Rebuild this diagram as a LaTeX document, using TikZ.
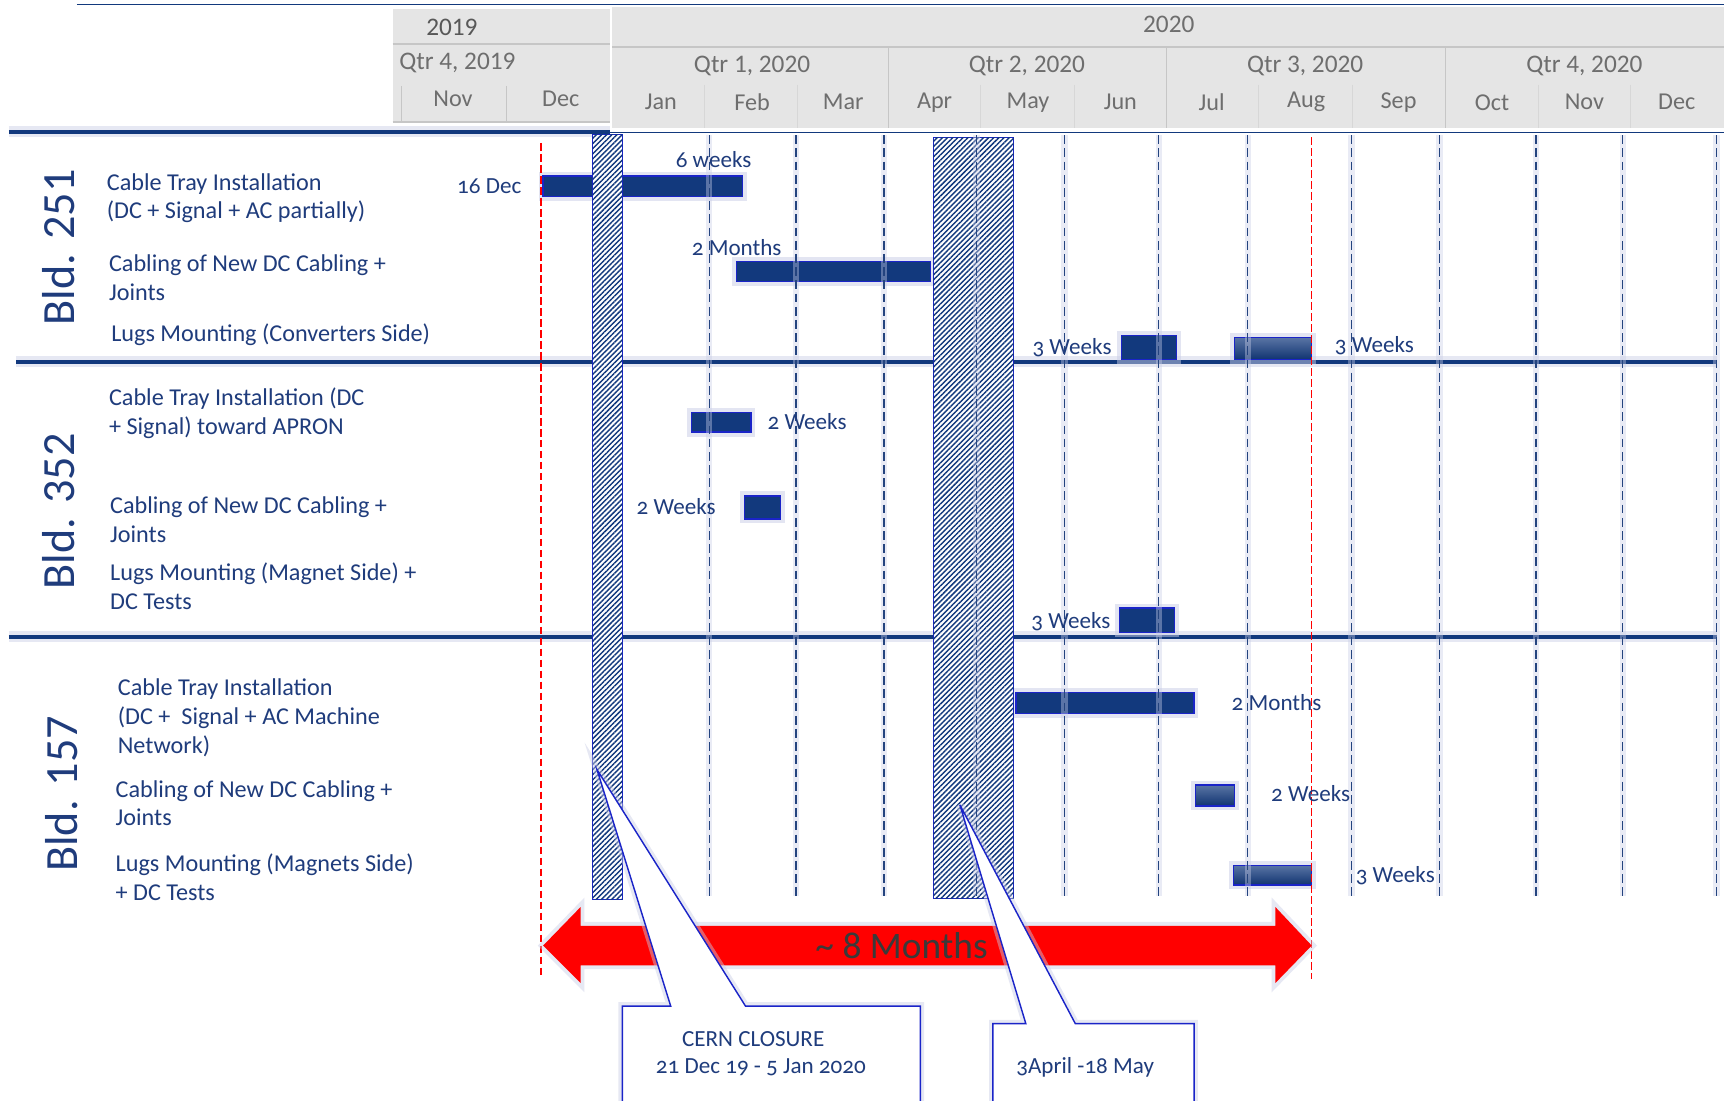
\documentclass[tikz,border=0pt]{standalone}
\usepackage{fontspec}
\setmainfont{Carlito}
\usetikzlibrary{patterns.meta}
\definecolor{bluetxt}{HTML}{1F3C7C}
\definecolor{barfill}{HTML}{12397D}
\definecolor{barline}{HTML}{1A24C8}
\definecolor{hdrgray}{HTML}{E5E5E5}
\definecolor{hdrline}{HTML}{C6C6C6}
\definecolor{hdrtext}{HTML}{6E6E6E}
\definecolor{gridblue}{HTML}{24447F}
\definecolor{glowc}{HTML}{C9CDE6}
\definecolor{txtgray}{HTML}{3A3A3A}
\begin{document}
\begin{tikzpicture}[x=1pt,y=-1pt,
  sectline/.style={draw=barfill, line width=3.5pt, preaction={draw=glowc, line width=10pt, opacity=0.45}},
  thinline/.style={draw=barfill, line width=1.5pt},
  monthline/.style={draw=gridblue, line width=1pt, dash pattern=on 8pt off 4pt, preaction={draw=glowc, line width=6pt, opacity=0.4, solid}},
  redline/.style={draw=red, line width=1pt, dash pattern=on 7pt off 3pt},
  bar/.style={fill=barfill, draw=barline, line width=1.2pt, preaction={draw=glowc, line width=8pt, opacity=0.5}},
  gradbar/.style={bar, top color=barfill!70, middle color=barfill!95!black, bottom color=barfill!90!black},
  closure/.style={draw=barline, line width=1pt, fill=white, postaction={pattern={Lines[angle=45,distance=3.3pt,line width=1.3pt]}, pattern color=barfill}},
  tasklbl/.style={anchor=base west, text=bluetxt, font=\fontsize{22}{26}\selectfont, align=left, inner sep=0pt},
  durlbl/.style={text=bluetxt, font=\fontsize{21}{24}\selectfont\addfontfeatures{Numbers=OldStyle}, inner sep=0pt},
  bldlbl/.style={text=bluetxt, font=\fontsize{42}{46}\selectfont, rotate=90, inner sep=0pt},
  hdrlbl/.style={text=hdrtext, font=\fontsize{22}{24}\selectfont, inner sep=0pt},
  qtrlbl/.style={hdrlbl, font=\fontsize{23}{26}\selectfont},
  callout/.style={draw=barline, line width=1.3pt, fill=white, preaction={draw=glowc, line width=7pt, opacity=0.45}},
  calltxt/.style={text=bluetxt, font=\fontsize{21}{26}\selectfont\addfontfeatures{Numbers=OldStyle}, inner sep=0pt},
]
\useasboundingbox (0,0) rectangle (1568,1001);
\fill[white] (0,0) rectangle (1568,1001);

% ---------- header ----------
\fill[hdrgray] (357,8) rectangle (555,112);
\fill[hdrgray] (557,6) rectangle (1568,116);
\draw[hdrline, line width=2pt] (357,40) -- (555,40);
\draw[hdrline, line width=2pt] (557,43) -- (1568,43);
\draw[hdrline, line width=1.5pt] (357,111) -- (555,111);
\foreach \x in {365,461} \draw[hdrline, line width=1pt] (\x,78) -- (\x,110);
\foreach \x in {808,1061,1315} \draw[hdrline, line width=1pt] (\x,44) -- (\x,116);
\foreach \x in {641,725,892,977,1145,1230,1399,1483} \draw[hdrline!70, line width=1pt] (\x,77) -- (\x,116);
\draw[thinline] (70,4) -- (1568,4);

\node[qtrlbl, text=hdrtext!80!black] (y2019) at (411,25) {2019};
\node[qtrlbl] (y2020) at (1063,22) {2020};
\node[qtrlbl, anchor=west] (q419) at (363,57) {Qtr 4, 2019};
\node[qtrlbl] (q120) at (684,60) {Qtr 1, 2020};
\node[qtrlbl] (q220) at (934,60) {Qtr 2, 2020};
\node[qtrlbl] (q320) at (1187,60) {Qtr 3, 2020};
\node[qtrlbl] (q420) at (1441,60) {Qtr 4, 2020};
\node[hdrlbl] (mnov19) at (412,90) {Nov};
\node[hdrlbl] (mdec19) at (510,90) {Dec};
\node[hdrlbl] (mjan) at (601,93) {Jan};
\node[hdrlbl] (mfeb) at (684,93) {Feb};
\node[hdrlbl] (mmar) at (767,93) {Mar};
\node[hdrlbl] (mapr) at (850,93) {Apr};
\node[hdrlbl] (mmay) at (935,93) {May};
\node[hdrlbl] (mjun) at (1019,93) {Jun};
\node[hdrlbl] (mjul) at (1102,93) {Jul};
\node[hdrlbl] (maug) at (1188,93) {Aug};
\node[hdrlbl] (msep) at (1272,93) {Sep};
\node[hdrlbl] (moct) at (1357,93) {Oct};
\node[hdrlbl] (mnov) at (1441,93) {Nov};
\node[hdrlbl] (mdec) at (1525,93) {Dec};

% ---------- section lines ----------
\draw[sectline] (8,120) -- (555,120);
\draw[thinline] (555,120.5) -- (1568,120.5);
\draw[sectline] (15,329) -- (1562,329);
\draw[sectline] (8,579) -- (1562,579);

% ---------- bars ----------
\draw[bar] (494,160) rectangle (675,179);
\draw[bar] (670,238) rectangle (846,256);
\draw[bar] (1020,305) rectangle (1070,327);
\draw[gradbar] (1123,307) rectangle (1193,327);
\draw[bar] (629,375) rectangle (683,393);
\draw[bar] (677,451) rectangle (710,472);
\draw[bar] (1018,553) rectangle (1068,575);
\draw[bar] (924,630) rectangle (1086,649);
\draw[gradbar] (1087,714) rectangle (1123,733);
\draw[gradbar] (1122,787) rectangle (1193,805);

% ---------- closures ----------
\draw[closure] (539,122) rectangle (566,818);
\draw[closure] (849,125) rectangle (922,817);

% ---------- month grid ----------
\foreach \x in {645,724,804,888,968,1054,1135,1229,1309,1397,1476,1561}
  \draw[monthline] (\x,123) -- (\x,815);
\draw[redline] (492,130) -- (492,890);
\draw[redline] (1193,125) -- (1193,890);

% ---------- building labels ----------
\node[bldlbl] (b251) at (53,225) {Bld. 251};
\node[bldlbl] (b352) at (53,465) {Bld. 352};
\node[bldlbl] (b157) at (56,722) {Bld. 157};

% ---------- task labels (anchored at last line baseline) ----------
\node[tasklbl] (t1) at (97,199) {Cable Tray Installation\\(DC + Signal + AC partially)};
\node[tasklbl] (t2) at (99,273) {Cabling of New DC Cabling +\\Joints};
\node[tasklbl] (t3) at (101,311) {Lugs Mounting (Converters Side)};
\node[tasklbl] (t4) at (99,395) {Cable Tray Installation (DC\\+ Signal) toward APRON};
\node[tasklbl] (t5) at (100,493) {Cabling of New DC Cabling +\\Joints};
\node[tasklbl] (t6) at (100,554) {Lugs Mounting (Magnet Side) +\\DC Tests};
\node[tasklbl] (t7) at (107,685) {Cable Tray Installation\\(DC +\ \ Signal + AC Machine\\Network)};
\node[tasklbl] (t8) at (105,751) {Cabling of New DC Cabling +\\Joints};
\node[tasklbl] (t9) at (105,819) {Lugs Mounting (Magnets Side)\\+ DC Tests};

% ---------- duration labels ----------
\node[durlbl] (d1) at (445,169) {16 Dec};
\node[durlbl] (d2) at (649,145) {6 weeks};
\node[durlbl] (d3) at (670,225) {2 Months};
\node[durlbl] (d4) at (975,316) {3 Weeks};
\node[durlbl] (d5) at (1250,314) {3 Weeks};
\node[durlbl] (d6) at (734,383) {2 Weeks};
\node[durlbl] (d7) at (615,461) {2 Weeks};
\node[durlbl] (d8) at (974,565) {3 Weeks};
\node[durlbl] (d9) at (1161,639) {2 Months};
\node[durlbl] (d10) at (1192,722) {2 Weeks};
\node[durlbl] (d11) at (1269,796) {3 Weeks};

% ---------- red double arrow ----------
\fill[red, preaction={draw=glowc, line width=7pt, opacity=0.45}]
  (494,860) -- (528,825) -- (528,842) -- (1160,842) -- (1160,825) -- (1193,860)
  -- (1160,894) -- (1160,878) -- (528,878) -- (528,894) -- cycle;
\node[text=txtgray, font=\fontsize{34}{38}\selectfont, inner sep=0pt] (span) at (820,860) {\textasciitilde\ 8 Months};

% ---------- callouts ----------
\draw[callout] (566,1002) -- (566,915) -- (610,915) -- (543,700) -- (678,915) -- (837,915) -- (837,1002);
\draw[callout] (903,1002) -- (903,931) -- (933,931) -- (873,732) -- (978,931) -- (1086,931) -- (1086,1002);
\node[calltxt] (c1a) at (685,945) {CERN CLOSURE};
\node[calltxt] (c1b) at (692,971) {21 Dec 19 - 5 Jan 2020};
\node[calltxt] (c2) at (987,971) {3April -18 May};
\end{tikzpicture}
\end{document}
